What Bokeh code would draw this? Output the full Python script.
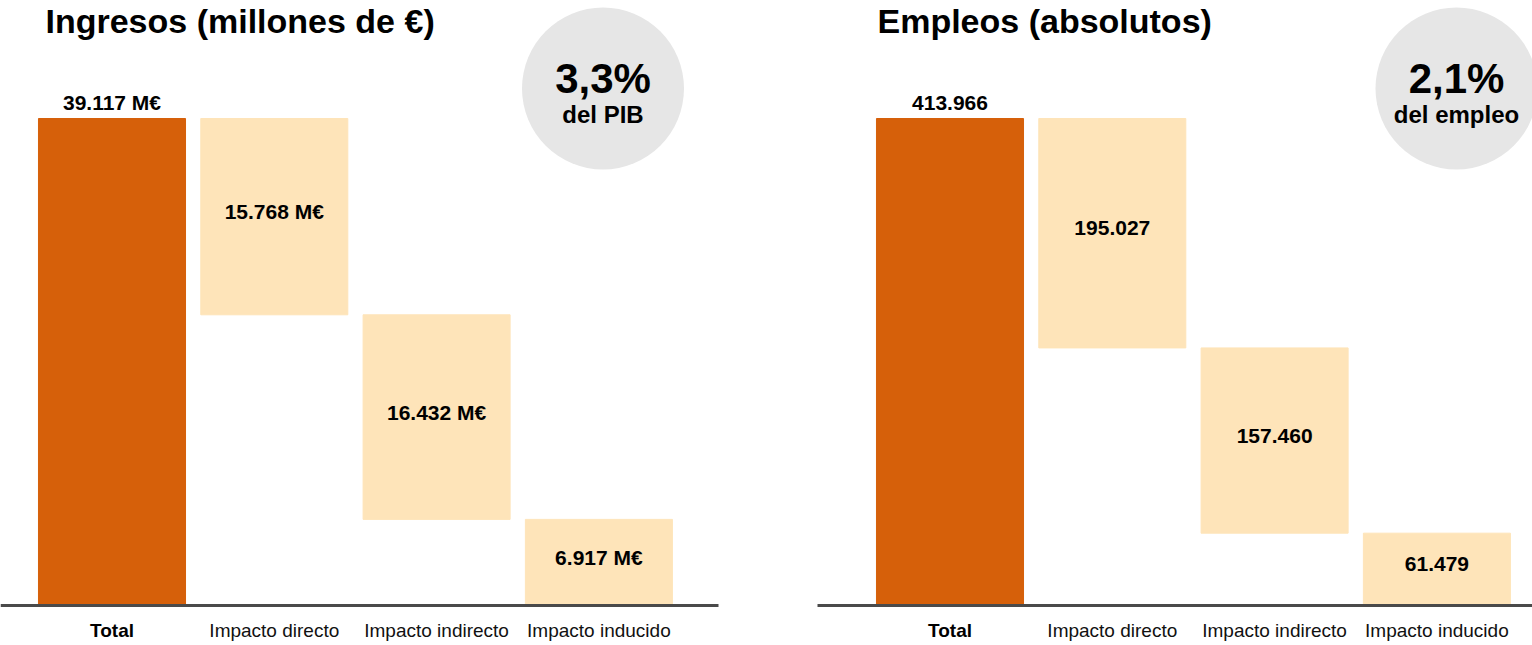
from bokeh.plotting import figure
from bokeh.models import Range1d, ColumnDataSource
from bokeh.layouts import row
from bokeh.embed import file_html
from bokeh.resources import INLINE
from bokeh.core.properties import value

# ---------------- data ----------------
categories = ["Total", "Impacto directo", "Impacto indirecto", "Impacto inducido"]
ingresos = [39117, 15768, 16432, 6917]
empleos = [413966, 195027, 157460, 61479]
titles = ["Ingresos (millones de €)", "Empleos (absolutos)"]
badge_big = ["3,3%", "2,1%"]
badge_small = ["del PIB", "del empleo"]
units = [" M€", ""]

# ---------------- style ----------------
FONT = value("Liberation Sans")
ORANGE = "#D6600A"
LIGHT = "#FEE4B9"
GREY = "#E6E6E6"
LINE = "#4A4A4A"

W, H = 766, 645
SPACING = 162.3        # px between category centres
BASE_PX = 605          # baseline, px from top of figure
TOP_PX = 118           # top of total bar, px from top


def fmt(v, unit):
    return f"{v:,}".replace(",", ".") + unit


def panel(vals, unit, title, big, small, first_center_px, title_px, circle_px, line_start_px, line_end_px):
    total = vals[0]
    k = total / (BASE_PX - TOP_PX)          # data units per px
    xs = -first_center_px / SPACING
    p = figure(width=W, height=H, output_backend="svg", toolbar_location=None,
               x_range=Range1d(xs, xs + W / SPACING),
               y_range=Range1d(-(H - BASE_PX) * k, BASE_PX * k),
               min_border=0, min_border_left=0, min_border_right=0,
               min_border_top=0, min_border_bottom=0,
               x_axis_type=None, y_axis_type=None, outline_line_color=None)
    p.grid.visible = False

    def X(px):
        return xs + px / SPACING

    def Y(py):
        return (BASE_PX - py) * k

    # waterfall geometry from values
    tops, bottoms = [total], [0]
    running = total
    for v in vals[1:]:
        tops.append(running)
        bottoms.append(running - v)
        running -= v
    idx = list(range(len(vals)))
    colors = [ORANGE] + [LIGHT] * (len(vals) - 1)
    src = ColumnDataSource(dict(x=idx, top=tops, bottom=bottoms, color=colors,
                                mid=[(t + b) / 2 for t, b in zip(tops, bottoms)],
                                lab=[fmt(v, unit) for v in vals], cat=categories))
    p.vbar(x="x", top="top", bottom="bottom", width=0.906, color="color", source=src)

    # baseline
    p.segment(x0=[X(line_start_px)], y0=[0], x1=[X(line_end_px)], y1=[0],
              line_width=3, line_color=LINE)

    # value labels
    p.text(x=[0], y=[total], text=[fmt(vals[0], unit)], text_font=FONT, text_font_style="bold",
           text_font_size="21px", text_align="center", text_baseline="middle",
           y_offset=-16, text_color="#000000")
    p.text(x=idx[1:], y=src.data["mid"][1:], text=src.data["lab"][1:], text_font=FONT,
           text_font_style="bold", text_font_size="21px", text_align="center",
           text_baseline="middle", y_offset=-5, text_color="#000000")

    # category labels
    p.text(x=[0], y=[0], text=[categories[0]], text_font=FONT, text_font_style="bold",
           text_font_size="19px", text_align="center", text_baseline="middle",
           y_offset=25, text_color="#000000")
    p.text(x=idx[1:], y=[0] * 3, text=categories[1:], text_font=FONT,
           text_font_size="19px", text_align="center", text_baseline="middle",
           y_offset=25, text_color="#111111")

    # title
    p.text(x=[X(title_px)], y=[Y(20)], text=[title], text_font=FONT, text_font_style="bold",
           text_font_size="34px", text_align="left", text_baseline="middle",
           text_color="#000000")

    # badge
    cx, cy = circle_px
    p.scatter(x=[X(cx)], y=[Y(cy)], size=162, marker="circle", fill_color=GREY, line_color=None)
    p.text(x=[X(cx)], y=[Y(78)], text=[big], text_font=FONT, text_font_style="bold",
           text_font_size="42px", text_align="center", text_baseline="middle",
           text_color="#000000")
    p.text(x=[X(cx)], y=[Y(114)], text=[small], text_font=FONT, text_font_style="bold",
           text_font_size="24px", text_align="center", text_baseline="middle",
           text_color="#000000")
    return p


p1 = panel(ingresos, units[0], titles[0], badge_big[0], badge_small[0],
           first_center_px=111.5, title_px=45, circle_px=(602.5, 88),
           line_start_px=0, line_end_px=718)
p2 = panel(empleos, units[1], titles[1], badge_big[1], badge_small[1],
           first_center_px=183.5, title_px=111, circle_px=(690, 88),
           line_start_px=51, line_end_px=W)

layout = row(p1, p2)
open("out.html", "w").write(file_html(layout, INLINE))
